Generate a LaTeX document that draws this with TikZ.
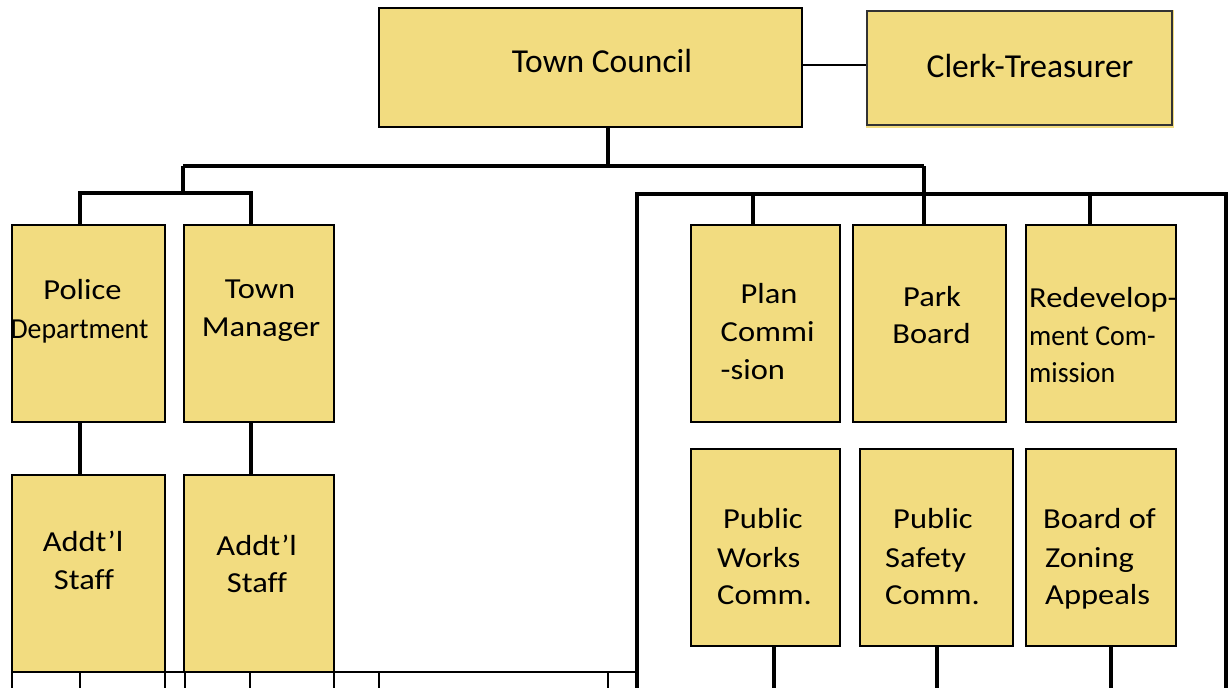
\documentclass[tikz,border=0pt]{standalone}
\usepackage{fontspec}
\setmainfont{Carlito}
\newfontfamily\bxf[FakeStretch=1.12,Ligatures=NoCommon]{Carlito}
\newfontfamily\bcf[FakeStretch=0.96,Ligatures=NoCommon]{Carlito}
\definecolor{boxfill}{RGB}{242,220,128}
\begin{document}
\begin{tikzpicture}[x=1pt,y=-1pt,
  orgbox/.style={draw=black, fill=boxfill, line width=2pt, inner sep=0pt},
  conn/.style={draw=black, line width=4pt},
  thinconn/.style={draw=black, line width=2pt},
  tick/.style={draw=black, line width=1.5pt},
  big/.style={inner sep=0pt, font=\fontsize{33.5}{40}\selectfont},
  tx/.style={inner sep=0pt, font=\bxf\fontsize{29}{35}\selectfont},
  tn/.style={inner sep=0pt, font=\bcf\fontsize{29}{35}\selectfont}]
\fill[white] (0,0) rectangle (1232,688);
\useasboundingbox (0,0) rectangle (1232,688);

% boxes
\node[orgbox, minimum width=423pt, minimum height=119pt] (tc) at (590.5,67.5) {};
\fill[boxfill] (866,10) rectangle (1174,128);
\node[orgbox, draw=black!80, line width=1.3pt, minimum width=305pt, minimum height=114pt] (ct) at (1019.5,68) {};
\node[orgbox, minimum width=153pt, minimum height=197pt] (pd) at (88.5,323.5) {};
\node[orgbox, minimum width=150pt, minimum height=197pt] (tm) at (259,323.5) {};
\node[orgbox, minimum width=153pt, minimum height=197pt] (as1) at (88.5,573.5) {};
\node[orgbox, minimum width=150pt, minimum height=197pt] (as2) at (259,573.5) {};
\node[orgbox, minimum width=149pt, minimum height=197pt] (plan) at (765.5,323.5) {};
\node[orgbox, minimum width=153pt, minimum height=197pt] (park) at (929.5,323.5) {};
\node[orgbox, minimum width=150pt, minimum height=197pt] (redev) at (1101,323.5) {};
\node[orgbox, minimum width=149pt, minimum height=197pt] (pw) at (765.5,547.5) {};
\node[orgbox, minimum width=153pt, minimum height=197pt] (ps) at (936.5,547.5) {};
\node[orgbox, minimum width=150pt, minimum height=197pt] (bza) at (1101,547.5) {};

% texts
\node[big, anchor=base] (tcT) at (602,72.7) {Town Council};
\node[big, anchor=base] (ctT) at (1030,77.3) {Clerk-Treasurer};
\node[tx, anchor=base] (pdT1) at (82.5,299.3) {Police};
\node[tn, anchor=base] (pdT2) at (79.5,338.3) {Department};
\node[tx, anchor=base] (tmT1) at (260,298) {Town};
\node[tx, anchor=base] (tmT2) at (261,336) {Manager};
\node[tx, anchor=base] (as1T1) at (83,551.7) {Addt’l};
\node[tx, anchor=base] (as1T2) at (84,589) {Staff};
\node[tx, anchor=base] (as2T1) at (256.7,555) {Addt’l};
\node[tx, anchor=base] (as2T2) at (257,592) {Staff};
\node[tx, anchor=base west] (planT1) at (740.5,303) {Plan};
\node[tx, anchor=base west] (planT2) at (720.5,341) {Commi};
\node[tx, anchor=base west] (planT3) at (720.5,379) {-sion};
\node[tx, anchor=base] (parkT1) at (932,306) {Park};
\node[tx, anchor=base] (parkT2) at (931.5,343) {Board};
\node[tx, anchor=base west] (redevT1) at (1029,307) {Redevelop-};
\node[tn, anchor=base west] (redevT2) at (1029,345) {ment Com-};
\node[tn, anchor=base west] (redevT3) at (1029,382) {mission};
\node[tx, anchor=base west] (pwT1) at (723,528) {Public};
\node[tx, anchor=base west] (pwT2) at (717,567) {Works};
\node[tx, anchor=base west] (pwT3) at (717,604) {Comm.};
\node[tx, anchor=base west] (psT1) at (893,528) {Public};
\node[tx, anchor=base west] (psT2) at (885,567) {Safety};
\node[tx, anchor=base west] (psT3) at (885,604) {Comm.};
\node[tx, anchor=base west] (bzaT1) at (1043,528) {Board of};
\node[tx, anchor=base west] (bzaT2) at (1045,567) {Zoning};
\node[tx, anchor=base west] (bzaT3) at (1045,604) {Appeals};

% junction coordinates
\coordinate (j0) at (608,166);
\coordinate (b1L) at (183,166);
\coordinate (b1R) at (924,166);
\coordinate (b2L) at (80,193);
\coordinate (b2R) at (251,193);
\coordinate (fL) at (637,194);
\coordinate (fR) at (1226,194);
\coordinate (fLb) at (637,688);
\coordinate (fRb) at (1226,688);
\coordinate (dp) at (753,194);
\coordinate (dr) at (1090,194);
\coordinate (e1) at (774,688);
\coordinate (e2) at (937,688);
\coordinate (e3) at (1111,688);
\coordinate (ck) at (835,65);
\coordinate (g0) at (12,672);

% connectors
\draw[thinconn] (ck -| tc.east) -- (ck -| ct.west);
\draw[conn] (tc.south -| j0) -- (j0);
\draw[conn] (b1L) -- (b1R);
\draw[conn] (b1R) -- (b1R |- park.north);
\draw[conn] (b1L) -- (b1L |- b2L);
\draw[conn] (b2L |- pd.north) -- (b2L) -- (b2R) -- (b2R |- tm.north);
\draw[conn] (pd.south -| b2L) -- (as1.north -| b2L);
\draw[conn] (tm.south -| b2R) -- (as2.north -| b2R);
\draw[conn] (fLb) -- (fL) -- (fR) -- (fRb);
\draw[conn] (dp) -- (dp |- plan.north);
\draw[conn] (dr) -- (dr |- redev.north);
\draw[conn] (pw.south -| e1) -- (e1);
\draw[conn] (ps.south -| e2) -- (e2);
\draw[conn] (bza.south -| e3) -- (e3);

% cut-off structure at the bottom
\draw[line width=2.3pt] (g0) -- (g0 -| fL);
\foreach \xx in {12,80,165,185,250,334,379,608}
  \draw[tick] (\xx,672) -- (\xx,688);
\end{tikzpicture}
\end{document}
